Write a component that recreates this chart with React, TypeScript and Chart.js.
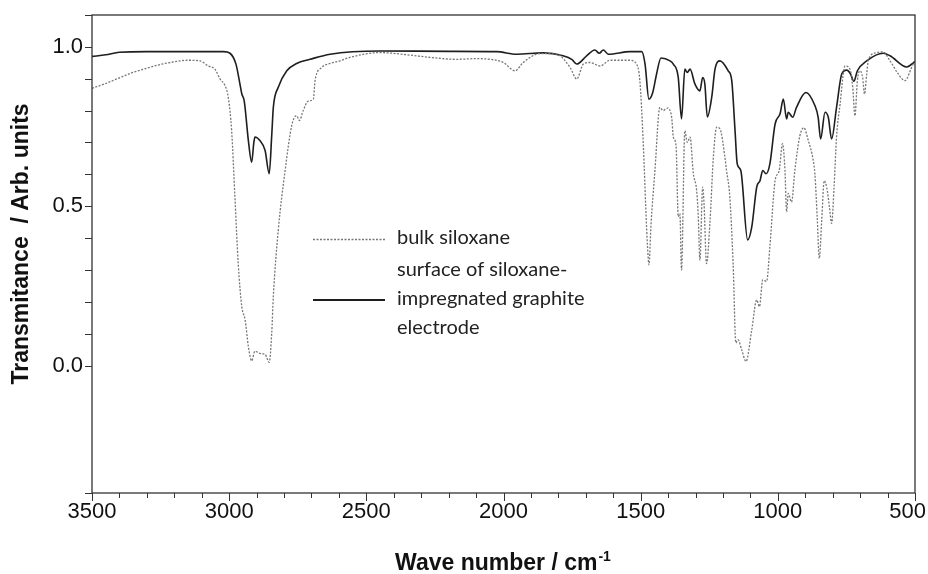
import React, { useEffect, useRef } from "react";
import { Chart, registerables } from "chart.js";

Chart.register(...registerables);

// Surface of siloxane-impregnated graphite electrode (solid line)
const surfaceWavenumbers = [
  3500, 3450, 3400, 3300, 3200, 3100, 3020, 2997, 2975, 2960, 2954, 2945, 2930, 2918, 2910, 2906, 2888, 2869, 2854, 2845,
  2839, 2821, 2790, 2754, 2705, 2632, 2450, 2200, 2025, 1952, 1856, 1783, 1750, 1733, 1697, 1667, 1651, 1636, 1618, 1539,
  1496, 1484, 1470, 1456, 1442, 1426, 1393, 1381, 1363, 1351, 1339, 1330, 1320, 1302, 1284, 1274, 1266, 1257, 1241, 1229,
  1211, 1181, 1168, 1156, 1148, 1135, 1110, 1095, 1077, 1065, 1055, 1043, 1029, 1010, 992, 980, 968, 962, 946, 932,
  898, 865, 853, 844, 828, 816, 804, 786, 767, 749, 735, 723, 710, 676, 616, 591, 530, 506, 500,
];
const surfaceValues = [
  0.970, 0.975, 0.983, 0.985, 0.985, 0.985, 0.985, 0.980, 0.945, 0.880, 0.853, 0.830, 0.706, 0.638, 0.700, 0.717, 0.706, 0.675, 0.602, 0.720,
  0.810, 0.873, 0.925, 0.948, 0.961, 0.977, 0.987, 0.986, 0.985, 0.977, 0.981, 0.972, 0.960, 0.946, 0.972, 0.990, 0.980, 0.990, 0.977, 0.985,
  0.985, 0.946, 0.836, 0.857, 0.915, 0.965, 0.956, 0.946, 0.904, 0.774, 0.930, 0.920, 0.930, 0.883, 0.862, 0.904, 0.883, 0.780, 0.842, 0.930,
  0.956, 0.925, 0.894, 0.737, 0.633, 0.612, 0.394, 0.435, 0.560, 0.580, 0.612, 0.602, 0.633, 0.758, 0.790, 0.836, 0.774, 0.795, 0.779, 0.810,
  0.857, 0.816, 0.779, 0.711, 0.795, 0.779, 0.711, 0.810, 0.915, 0.927, 0.915, 0.892, 0.925, 0.956, 0.980, 0.972, 0.937, 0.950, 0.955,
];

// Bulk siloxane (dotted line)
const bulkWavenumbers = [
  3500, 3450, 3400, 3350, 3300, 3250, 3200, 3150, 3106, 3076, 3052, 3033, 3015, 3003, 2991, 2979, 2967, 2954, 2942, 2930,
  2918, 2906, 2888, 2869, 2854, 2845, 2839, 2821, 2796, 2772, 2754, 2744, 2730, 2712, 2693, 2687, 2663, 2632, 2596, 2560,
  2450, 2350, 2268, 2171, 2100, 2049, 2001, 1958, 1928, 1867, 1806, 1757, 1733, 1709, 1685, 1648, 1612, 1539, 1515, 1503,
  1491, 1478, 1472, 1470, 1462, 1448, 1430, 1418, 1403, 1387, 1381, 1371, 1363, 1357, 1351, 1339, 1330, 1320, 1308, 1296,
  1290, 1284, 1274, 1269, 1260, 1247, 1235, 1223, 1211, 1193, 1187, 1175, 1163, 1153, 1145, 1132, 1116, 1095, 1077, 1067,
  1055, 1041, 1029, 1010, 995, 983, 974, 968, 962, 950, 938, 920, 905, 889, 871, 865, 856, 849, 840, 831,
  822, 812, 804, 795, 786, 773, 755, 737, 727, 719, 710, 701, 691, 684, 676, 670, 640, 616, 591, 561,
  537, 506, 500,
];
const bulkValues = [
  0.870, 0.885, 0.903, 0.920, 0.933, 0.945, 0.953, 0.958, 0.956, 0.940, 0.930, 0.899, 0.878, 0.840, 0.737, 0.529, 0.320, 0.185, 0.144, 0.060,
  0.015, 0.045, 0.038, 0.035, 0.010, 0.100, 0.217, 0.425, 0.612, 0.753, 0.784, 0.769, 0.800, 0.830, 0.836, 0.894, 0.935, 0.948, 0.956, 0.967,
  0.982, 0.975, 0.967, 0.961, 0.963, 0.961, 0.951, 0.925, 0.951, 0.979, 0.977, 0.935, 0.899, 0.946, 0.951, 0.940, 0.958, 0.958, 0.946, 0.894,
  0.706, 0.425, 0.331, 0.316, 0.446, 0.612, 0.810, 0.800, 0.808, 0.779, 0.717, 0.690, 0.467, 0.477, 0.300, 0.737, 0.700, 0.717, 0.602, 0.550,
  0.467, 0.331, 0.560, 0.508, 0.320, 0.456, 0.654, 0.748, 0.743, 0.654, 0.612, 0.529, 0.320, 0.071, 0.081, 0.050, 0.013, 0.112, 0.206, 0.185,
  0.269, 0.264, 0.373, 0.580, 0.612, 0.696, 0.612, 0.482, 0.540, 0.513, 0.612, 0.720, 0.746, 0.706, 0.644, 0.602, 0.456, 0.336, 0.456, 0.580,
  0.560, 0.498, 0.446, 0.560, 0.717, 0.821, 0.940, 0.930, 0.873, 0.784, 0.894, 0.925, 0.904, 0.852, 0.915, 0.958, 0.982, 0.984, 0.956, 0.915,
  0.894, 0.946, 0.950,
];

// Axis ticks
const xTickValues = [3500, 3000, 2500, 2000, 1500, 1000, 500];
const yTickLabels = [0.0, 0.5, 1.0];
const yMinorTicks = [-0.4, 0.0, 0.1, 0.2, 0.3, 0.4, 0.5, 0.6, 0.7, 0.8, 0.9, 1.0, 1.1];

const legendLabels = ["bulk siloxane", "surface of siloxane-", "impregnated graphite", "electrode"];
const xTitle = "Wave number / cm";
const xTitleSup = "-1";
const yTitle = "Transmitance  / Arb. units";

const SOLID = "#1e1e1e";
const DOTTED = "#777777";
const AXIS_FONT = "'Liberation Sans', Arial, sans-serif";

const decorPlugin = {
  id: "decor",
  afterDraw(chart: any) {
    const { ctx, chartArea, width } = chart;
    const xs = chart.scales.x;
    const ys = chart.scales.y;
    const { left, right, top, bottom } = chartArea;
    ctx.save();
    // frame
    ctx.strokeStyle = "#333";
    ctx.lineWidth = 1.3;
    ctx.setLineDash([]);
    ctx.strokeRect(left, top, right - left, bottom - top);
    // y ticks
    ctx.lineWidth = 1;
    ctx.strokeStyle = "#333";
    ctx.beginPath();
    for (const v of yMinorTicks) {
      const py = Math.round(ys.getPixelForValue(v)) + 0.5;
      ctx.moveTo(left - 7, py);
      ctx.lineTo(left, py);
    }
    // x ticks
    for (let v = 500; v <= 3500; v += 100) {
      const px = Math.round(xs.getPixelForValue(v)) + 0.5;
      const len = v % 500 === 0 ? 8 : 5;
      ctx.moveTo(px, bottom);
      ctx.lineTo(px, bottom + len);
    }
    ctx.stroke();

    // x tick labels (kept inside the canvas like the original)
    ctx.fillStyle = "#111";
    ctx.font = "22px " + AXIS_FONT;
    ctx.textBaseline = "middle";
    ctx.textAlign = "center";
    for (const v of xTickValues) {
      const label = String(v);
      const w = ctx.measureText(label).width;
      let px = xs.getPixelForValue(v);
      if (px + w / 2 > width - 2) px = width - 2 - w / 2;
      ctx.fillText(label, px, 512);
    }

    // x title with superscript
    ctx.textBaseline = "alphabetic";
    ctx.textAlign = "left";
    ctx.font = "bold 23px " + AXIS_FONT;
    const mainW = ctx.measureText(xTitle).width;
    ctx.font = "bold 14px " + AXIS_FONT;
    const supW = ctx.measureText(xTitleSup).width;
    const cx = 503;
    const startX = cx - (mainW + supW + 1) / 2;
    const baseY = 570;
    ctx.font = "bold 23px " + AXIS_FONT;
    ctx.fillText(xTitle, startX, baseY);
    ctx.font = "bold 14px " + AXIS_FONT;
    ctx.fillText(xTitleSup, startX + mainW + 1, baseY - 9);

    // y title
    ctx.save();
    ctx.translate(22, 244);
    ctx.rotate(-Math.PI / 2);
    ctx.textAlign = "center";
    ctx.textBaseline = "middle";
    ctx.font = "bold 23px " + AXIS_FONT;
    ctx.fillText(yTitle, 0, 0);
    ctx.restore();

    // legend
    const lx0 = left + 221;
    const lx1 = left + 293;
    const tx = left + 305;
    ctx.lineWidth = 1.3;
    ctx.strokeStyle = DOTTED;
    ctx.setLineDash([2, 1.5]);
    ctx.beginPath();
    ctx.moveTo(lx0, 239.5);
    ctx.lineTo(lx1, 239.5);
    ctx.stroke();
    ctx.setLineDash([]);
    ctx.lineWidth = 2;
    ctx.strokeStyle = SOLID;
    ctx.beginPath();
    ctx.moveTo(lx0, 300);
    ctx.lineTo(lx1, 300);
    ctx.stroke();
    ctx.fillStyle = "#222";
    ctx.font = "20px Lato, 'Open Sans', sans-serif";
    ctx.textAlign = "left";
    ctx.textBaseline = "middle";
    ctx.fillText(legendLabels[0], tx, 238);
    ctx.fillText(legendLabels[1], tx, 270);
    ctx.fillText(legendLabels[2], tx, 299);
    ctx.fillText(legendLabels[3], tx, 328);
    ctx.restore();
  },
};

const zeroPadding = (s: any) => {
  s.paddingLeft = 0;
  s.paddingRight = 0;
  s.paddingTop = 0;
  s.paddingBottom = 0;
};

export default function App() {
  const ref = useRef<HTMLCanvasElement | null>(null);
  useEffect(() => {
    document.body.style.margin = "0";
    const canvas = ref.current;
    if (!canvas) return;
    const chart = new Chart(canvas, {
      type: "line",
      data: {
        datasets: [
          {
            label: "bulk siloxane",
            data: bulkWavenumbers.map((x, i) => ({ x, y: bulkValues[i] })),
            borderColor: DOTTED,
            borderWidth: 1.3,
            borderDash: [2, 1.5],
            pointRadius: 0,
            cubicInterpolationMode: "monotone",
            fill: false,
          },
          {
            label: "surface of siloxane-impregnated graphite electrode",
            data: surfaceWavenumbers.map((x, i) => ({ x, y: surfaceValues[i] })),
            borderColor: SOLID,
            borderWidth: 1.6,
            pointRadius: 0,
            cubicInterpolationMode: "monotone",
            fill: false,
          },
        ],
      },
      options: {
        animation: false,
        responsive: false,
        maintainAspectRatio: false,
        layout: { padding: { top: 15, right: 13, left: 0, bottom: 0 } },
        plugins: { legend: { display: false }, tooltip: { enabled: false } },
        scales: {
          x: {
            type: "linear",
            reverse: true,
            min: 500,
            max: 3500,
            border: { display: false },
            grid: { display: false, drawTicks: false },
            afterFit: (s: any) => {
              s.height = 81;
              zeroPadding(s);
            },
            afterBuildTicks: (s: any) => {
              s.ticks = xTickValues.map((v) => ({ value: v }));
            },
            ticks: {
              display: false,
              autoSkip: false,
              maxRotation: 0,
            },
          },
          y: {
            type: "linear",
            min: -0.4,
            max: 1.1,
            border: { display: false },
            grid: { display: false, drawTicks: false },
            afterFit: (s: any) => {
              s.width = 92;
              zeroPadding(s);
            },
            afterBuildTicks: (s: any) => {
              s.ticks = yTickLabels.map((v) => ({ value: v }));
            },
            ticks: {
              autoSkip: false,
              padding: 9,
              color: "#111",
              font: { size: 22, family: AXIS_FONT },
              callback: (v: any) => Number(v).toFixed(1),
            },
          },
        },
      },
      plugins: [decorPlugin],
    });
    return () => chart.destroy();
  }, []);
  return (
    <div style={{ width: 928, height: 574, position: "relative", background: "#fff" }}>
      <canvas ref={ref} width={928} height={574} style={{ display: "block", width: 928, height: 574 }} />
    </div>
  );
}
